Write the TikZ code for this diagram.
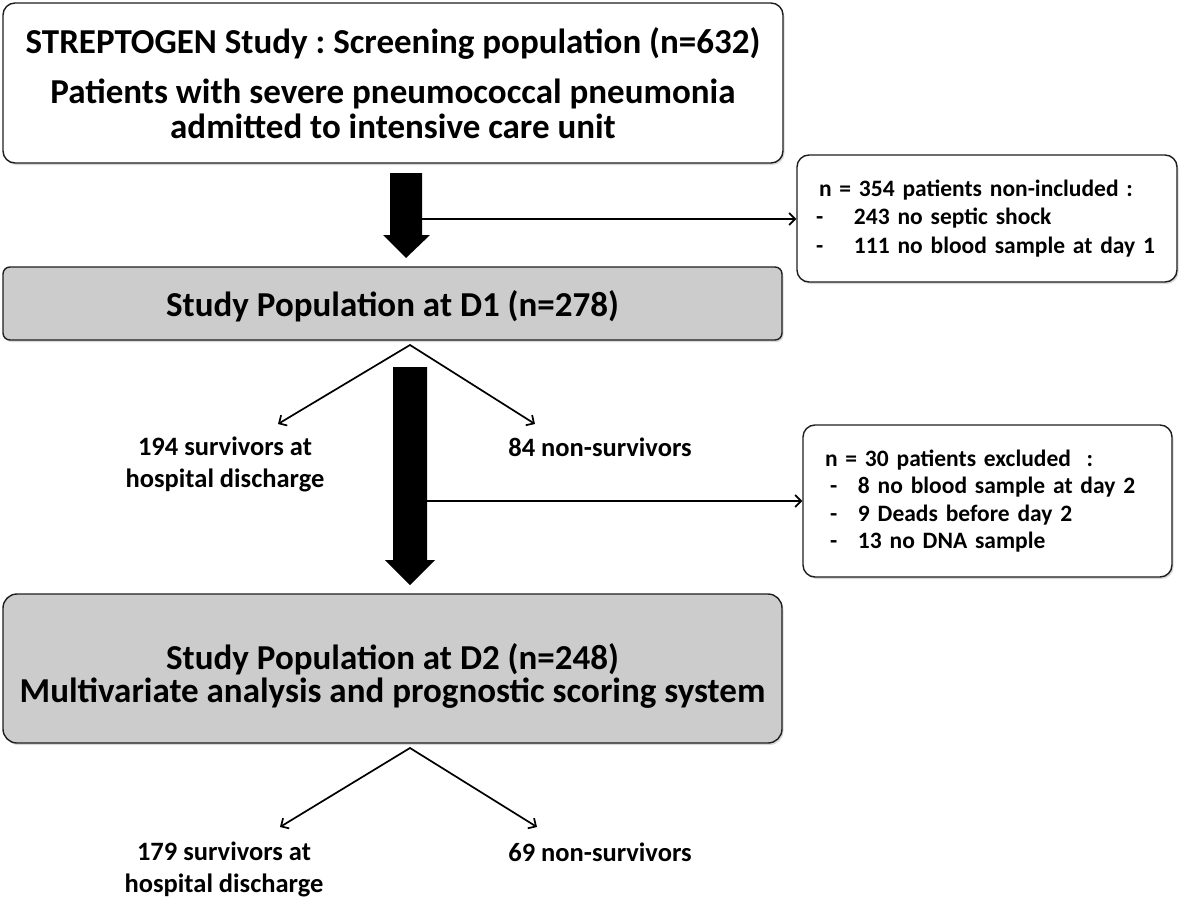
\documentclass[tikz,border=0pt]{standalone}
\usepackage{fontspec}
\setmainfont{Carlito}
\frenchspacing
\usetikzlibrary{arrows.meta,shadows,calc}
\definecolor{boxgrey}{RGB}{204,204,204}
\definecolor{edge}{RGB}{30,30,30}
\tikzset{
  box/.style={draw=edge, line width=1.4pt, rounded corners=12pt, fill=white,
    drop shadow={shadow xshift=1.5pt, shadow yshift=-2pt, opacity=0.3},
    inner sep=0pt, align=center, font=\fontsize{35}{35}\selectfont\bfseries},
  greybox/.style={box, fill=boxgrey},
  sidebox/.style={box, font=\fontsize{23.5}{28.5}\selectfont\bfseries, align=left},
  lbl/.style={font=\fontsize{26.5}{32}\selectfont\bfseries, align=center, inner sep=0pt},
  conn/.style={line width=1.7pt, draw=black, line join=miter,
    -{Straight Barb[length=6pt,width=12pt,line width=1.7pt]}},
  split/.style={line width=1.7pt, draw=black, line join=miter,
    {Straight Barb[length=6pt,width=12pt,line width=1.7pt]}-{Straight Barb[length=6pt,width=12pt,line width=1.7pt]}},
  bigarrow/.style={fill=black},
}
\begin{document}
\begin{tikzpicture}[x=1pt,y=-1pt]
\useasboundingbox (0,0) rectangle (1179,899);

% main boxes
\node[box, minimum width=780pt, minimum height=160pt] (top) at (393,83)
  {STREPTOGEN Study : Screening population (n=632)\\[15pt]
   Patients with severe pneumococcal pneumonia\\
   admitted to intensive care unit};
\node[greybox, rounded corners=7pt, minimum width=779pt, minimum height=73pt] (d1) at (392.5,303.5)
  {\raisebox{-3pt}[\height][\depth]{Study Population at D1 (n=278)}};
\node[greybox, rounded corners=14pt, minimum width=779pt, minimum height=149pt] (d2) at (392.5,668.5)
  {\raisebox{-10pt}[\height][\depth]{\begin{tabular}{@{}c@{}}Study Population at D2 (n=248)\\[-2pt]
   Multivariate analysis and prognostic scoring system\end{tabular}}};

% side boxes
\node[sidebox, minimum width=380pt, minimum height=127pt, text width=356pt, inner xsep=12pt] (ex1) at (987,218.5)
  {\hspace*{10pt}n = 354 patients non-included :\\
   \hspace*{7pt}\makebox[38pt][l]{-}243 no septic shock\\
   \hspace*{7pt}\makebox[38pt][l]{-}111 no blood sample at day 1};
\node[sidebox, minimum width=369pt, minimum height=152pt, text width=345pt, inner xsep=12pt] (ex2) at (987.5,501)
  {\hspace*{10pt}n = 30 patients excluded\ \ :\\[-1pt]
   \hspace*{15pt}\makebox[28pt][l]{-}8 no blood sample at day 2\\[-1pt]
   \hspace*{15pt}\makebox[28pt][l]{-}9 Deads before day 2\\[-1pt]
   \hspace*{15pt}\makebox[28pt][l]{-}13 no DNA sample\\[4pt]};

% outcome labels
\node[lbl] (s194) at (225,464) {194 survivors at\\hospital discharge};
\node[lbl] (n84) at (600,447) {84 non-survivors};
\node[lbl] (s179) at (224,869) {179 survivors at\\hospital discharge};
\node[lbl] (n69) at (600,852) {69 non-survivors};

% thick arrows
\fill[bigarrow] (390,173) -- (422,173) -- (422,235) -- (430,235) -- (406,258) -- (383,235) -- (390,235) -- cycle;
\fill[bigarrow] (393,367) -- (427,367) -- (427,560) -- (435,560) -- (410,585) -- (385,560) -- (393,560) -- cycle;

% exclusion connectors
\coordinate (h1) at (422,219);
\draw[conn] (h1) -- (h1 -| ex1.west);
\coordinate (h2) at (427,501);
\draw[conn] (h2) -- (h2 -| ex2.west);

% splits
\coordinate (ap1) at (410,345);
\coordinate (tl1) at (278,424);
\coordinate (tr1) at (535,424);
\draw[split] (tl1) -- (ap1) -- (tr1);
\coordinate (ap2) at (410,748);
\coordinate (tl2) at (280,827);
\coordinate (tr2) at (537,827);
\draw[split] (tl2) -- (ap2) -- (tr2);
\end{tikzpicture}
\end{document}
